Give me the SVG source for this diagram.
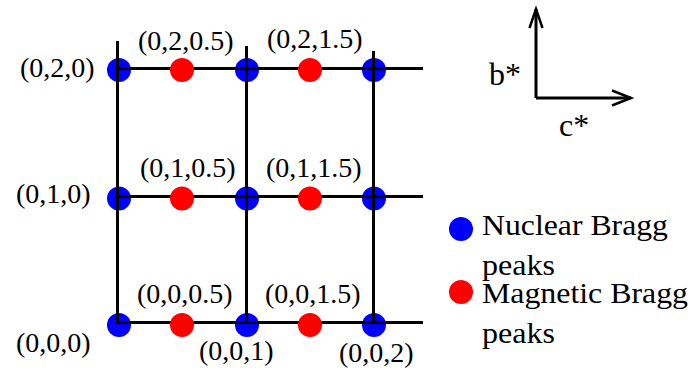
<svg xmlns="http://www.w3.org/2000/svg" width="690" height="370" viewBox="0 0 690 370">
  <style>
    text { font-family: "Liberation Serif", "Times New Roman", serif; fill: #000; }
    .lbl { font-size: 28px; }
    .leg { font-size: 30px; }
    .ax { font-size: 32px; }
    .nuc { fill: #0000ff; }
    .mag { fill: #ff0000; }
    .ln { stroke: #000; stroke-width: 3; fill: none; }
    .arr { stroke: #000; stroke-width: 2.5; fill: none; }
  </style>

  <!-- nuclear peaks (under the grid lines) -->
  <g id="nuclear-peaks">
    <g id="n-0-2-0"><circle class="nuc" cx="119" cy="70" r="12"/><text class="lbl" x="20" y="77">(0,2,0)</text></g>
    <g id="n-0-2-1"><circle class="nuc" cx="247" cy="70" r="12"/></g>
    <g id="n-0-2-2"><circle class="nuc" cx="374" cy="70" r="12"/></g>
    <g id="n-0-1-0"><circle class="nuc" cx="119" cy="198.5" r="12"/><text class="lbl" x="16" y="203">(0,1,0)</text></g>
    <g id="n-0-1-1"><circle class="nuc" cx="247" cy="198.5" r="12"/></g>
    <g id="n-0-1-2"><circle class="nuc" cx="374" cy="198.5" r="12"/></g>
    <g id="n-0-0-0"><circle class="nuc" cx="119" cy="325" r="12"/><text class="lbl" x="16" y="352">(0,0,0)</text></g>
    <g id="n-0-0-1"><circle class="nuc" cx="247" cy="325" r="12"/><text class="lbl" x="199" y="360">(0,0,1)</text></g>
    <g id="n-0-0-2"><circle class="nuc" cx="374" cy="325" r="12"/><text class="lbl" x="339" y="362">(0,0,2)</text></g>
  </g>

  <!-- grid lines -->
  <g id="connectors">
    <line class="ln" x1="117.5" y1="41" x2="117.5" y2="324"/>
    <line class="ln" x1="246.5" y1="46" x2="246.5" y2="324"/>
    <line class="ln" x1="373.5" y1="51" x2="373.5" y2="324"/>
    <line class="ln" x1="116" y1="68.5" x2="423" y2="68.5"/>
    <line class="ln" x1="116" y1="196.5" x2="423" y2="196.5"/>
    <line class="ln" x1="116" y1="322.5" x2="423" y2="322.5"/>
  </g>

  <!-- magnetic peaks (over the grid lines) -->
  <g id="magnetic-peaks">
    <g id="m-0-2-05"><circle class="mag" cx="182" cy="70" r="12"/><text class="lbl" x="138" y="50">(0,2,0.5)</text></g>
    <g id="m-0-2-15"><circle class="mag" cx="310" cy="70" r="12"/><text class="lbl" x="267" y="48">(0,2,1.5)</text></g>
    <g id="m-0-1-05"><circle class="mag" cx="182" cy="198.5" r="12"/><text class="lbl" x="140" y="177">(0,1,0.5)</text></g>
    <g id="m-0-1-15"><circle class="mag" cx="310" cy="198.5" r="12"/><text class="lbl" x="266" y="177">(0,1,1.5)</text></g>
    <g id="m-0-0-05"><circle class="mag" cx="182" cy="325" r="12"/><text class="lbl" x="137" y="303">(0,0,0.5)</text></g>
    <g id="m-0-0-15"><circle class="mag" cx="310" cy="325" r="12"/><text class="lbl" x="265" y="303">(0,0,1.5)</text></g>
  </g>

  <!-- axes -->
  <g id="axes">
    <path class="ln" d="M536 98 V9 M536 98 H631"/>
    <path class="arr" d="M529.5 28 L536 9 L542.5 28"/>
    <path class="arr" d="M612 90.5 L631 98 L612 105.5"/>
    <text class="ax" x="489" y="85">b*</text>
    <text class="ax" x="559" y="136">c*</text>
  </g>

  <!-- legend -->
  <g id="legend">
    <g id="legend-nuclear">
      <circle class="nuc" cx="461" cy="229" r="12"/>
      <text class="leg" x="482" y="235" textLength="186" lengthAdjust="spacingAndGlyphs">Nuclear Bragg</text>
      <text class="leg" x="482" y="275" textLength="73" lengthAdjust="spacingAndGlyphs">peaks</text>
    </g>
    <g id="legend-magnetic">
      <circle class="mag" cx="461" cy="292" r="12"/>
      <text class="leg" x="482" y="303" textLength="206" lengthAdjust="spacingAndGlyphs">Magnetic Bragg</text>
      <text class="leg" x="482" y="343" textLength="73" lengthAdjust="spacingAndGlyphs">peaks</text>
    </g>
  </g>
</svg>
